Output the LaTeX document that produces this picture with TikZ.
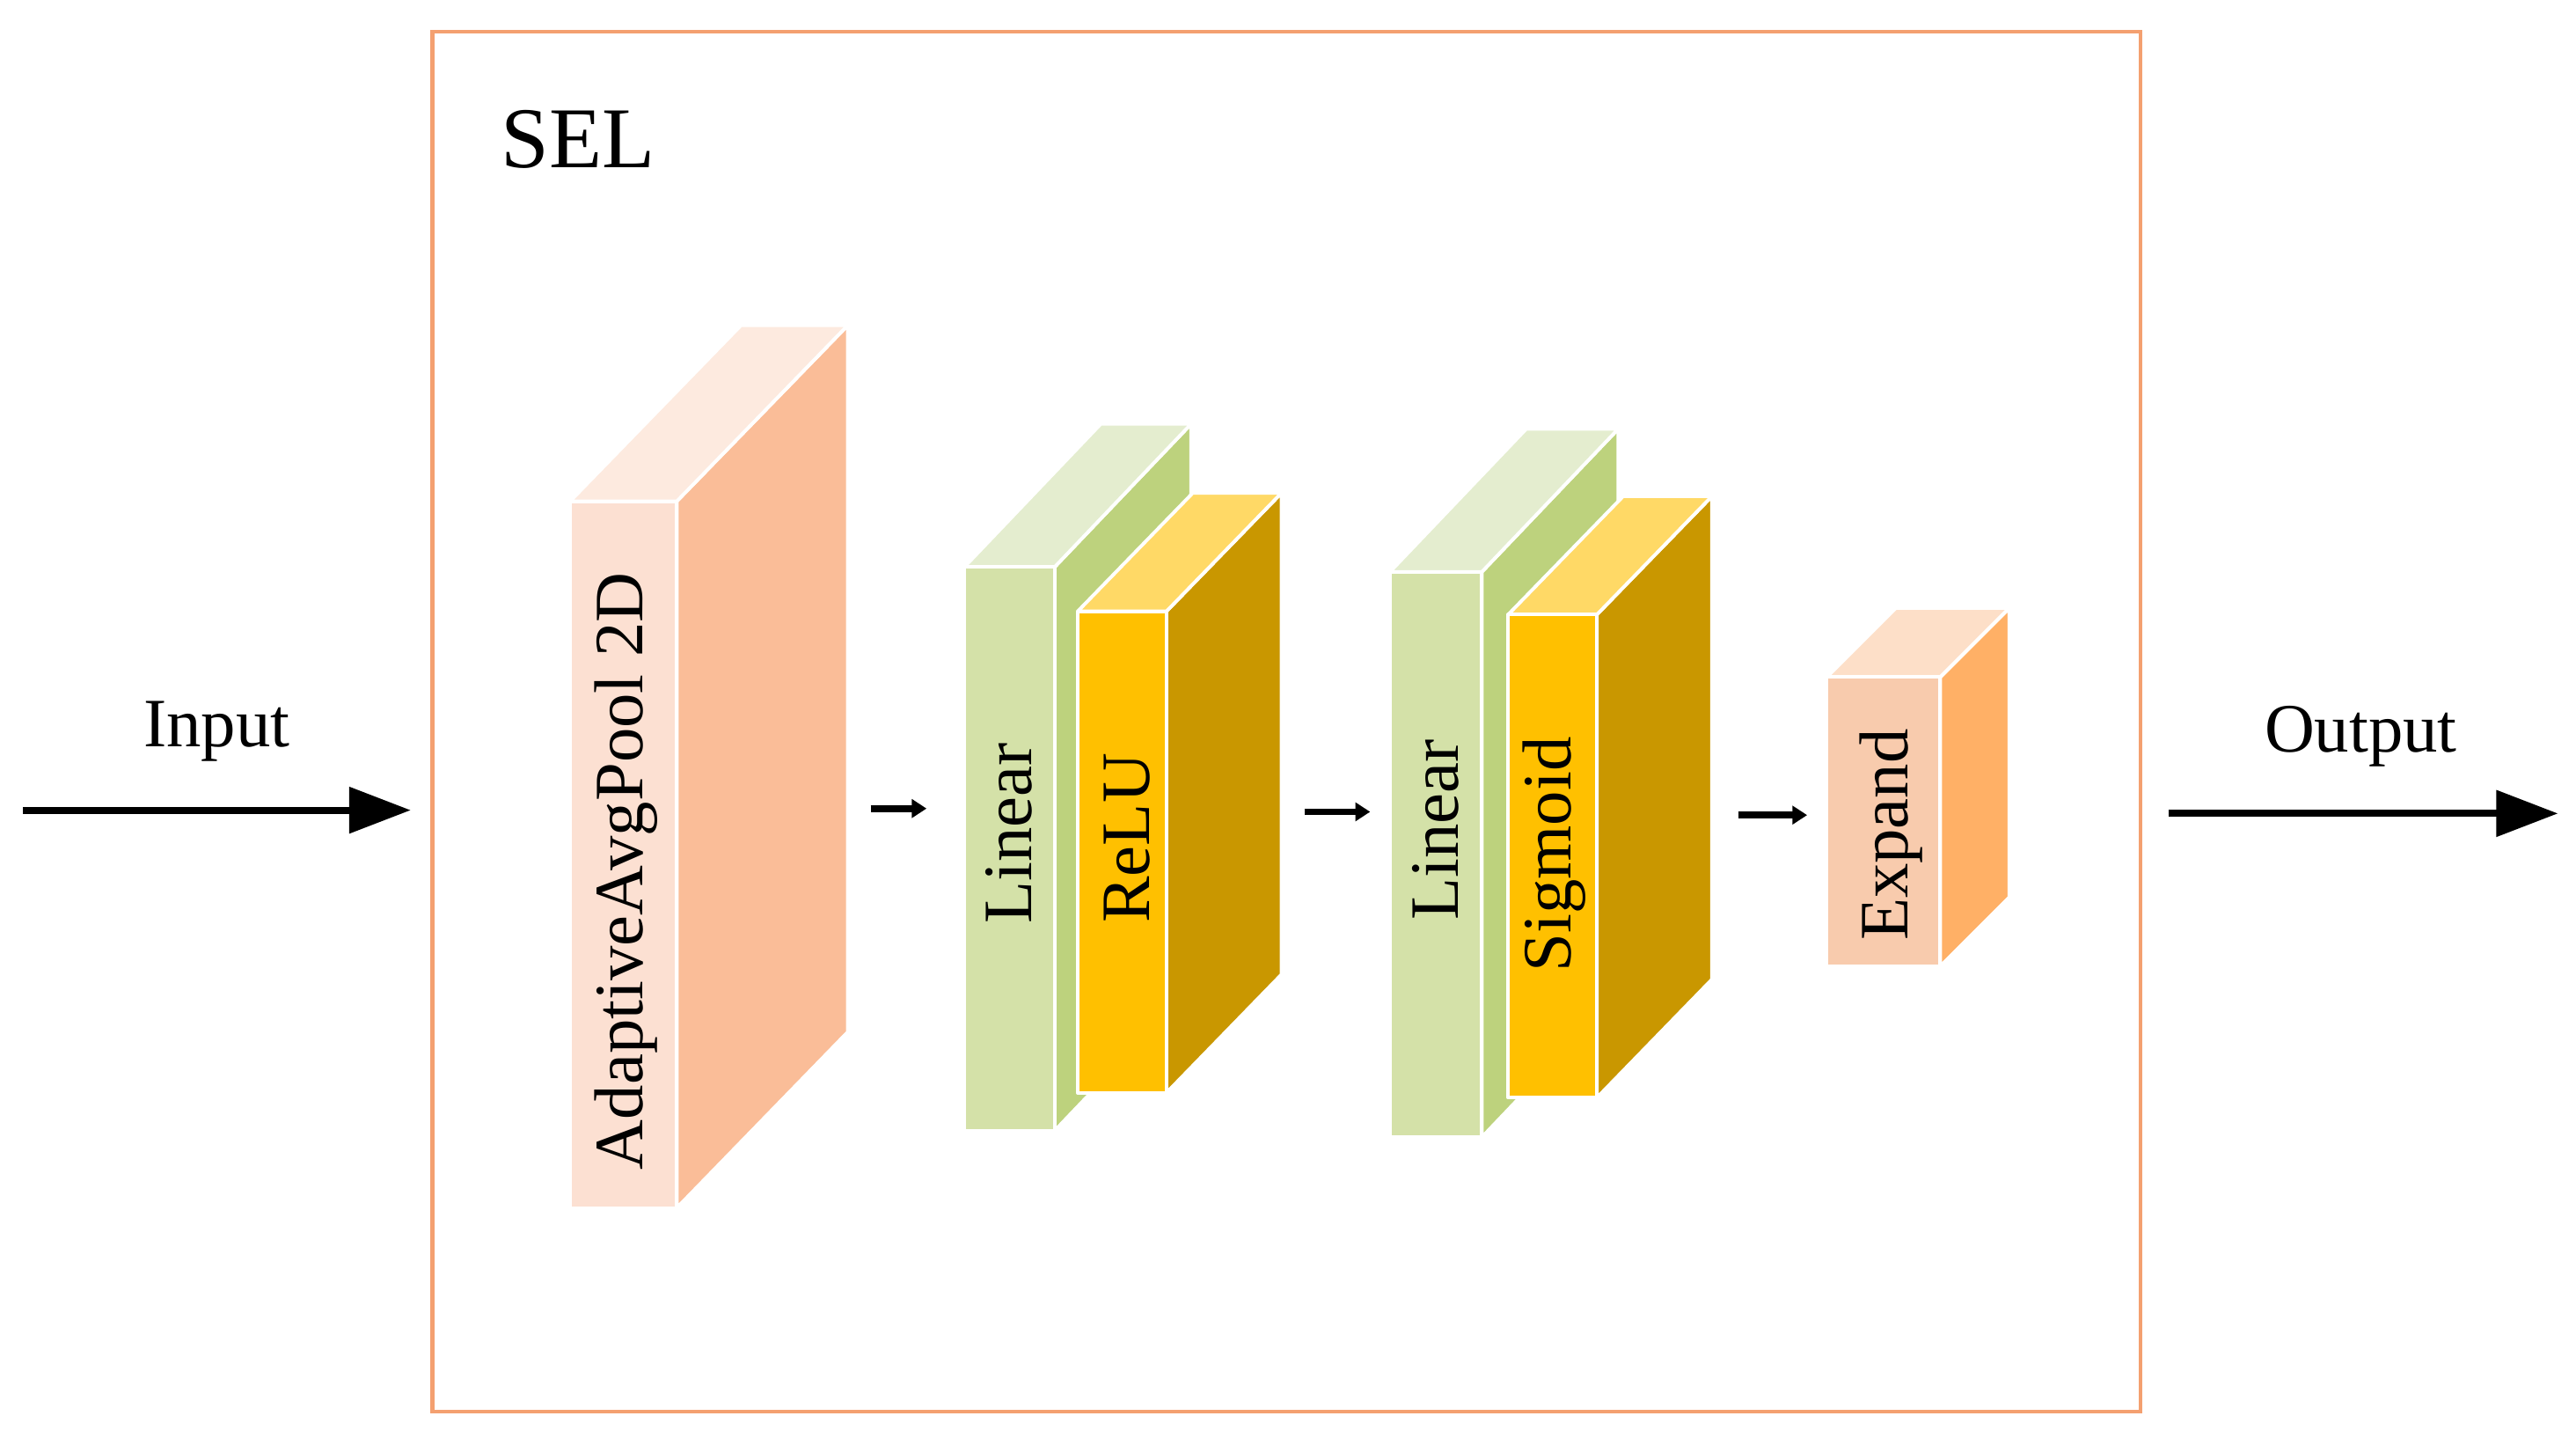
\documentclass[tikz,border=0pt]{standalone}
\usepackage{fontspec}
\setmainfont{Liberation Serif}
\usetikzlibrary{arrows.meta}
\definecolor{frameC}{HTML}{F4A070}
\definecolor{pF}{HTML}{FCE0D2}\definecolor{pT}{HTML}{FDEADF}\definecolor{pS}{HTML}{FABD98}
\definecolor{gF}{HTML}{D4E1A8}\definecolor{gT}{HTML}{E4EDCF}\definecolor{gS}{HTML}{BDD27D}
\definecolor{yF}{HTML}{FFC000}\definecolor{yT}{HTML}{FFD966}\definecolor{yS}{HTML}{C99700}
\definecolor{eF}{HTML}{F8CBAD}\definecolor{eT}{HTML}{FDDFC8}\definecolor{eS}{HTML}{FFB066}
\tikzset{
  face/.style={draw=white, line width=1.2pt, line join=round},
  lbl/.style={font=\fontsize{24}{28}\selectfont, inner sep=0pt},
  big/.style={line width=2.4pt, -{Triangle[length=0.75cm,width=0.55cm]}},
  small/.style={line width=2.4pt, -{Triangle[length=0.18cm,width=0.22cm]}}
}
\newcommand{\myblock}[9]{%
  \fill[#9,face] (#3,#2) -- (#3+#5,#2-#6) -- (#3+#5,#4-#6) -- (#3,#4) -- cycle;
  \fill[#8,face] (#1,#2) -- (#1+#5,#2-#6) -- (#3+#5,#2-#6) -- (#3,#2) -- cycle;
  \fill[#7,face] (#1,#2) rectangle (#3,#4);
}
\begin{document}
\begin{tikzpicture}[x=0.02cm,y=-0.02cm]
\useasboundingbox (0,0) rectangle (1568,875);
\node[draw=frameC, line width=1.3pt, minimum width=20.8cm, minimum height=16.8cm, anchor=north west, inner sep=0pt] (frame) at (262,18) {};
\node[font=\fontsize{30}{34}\selectfont, inner sep=0pt] (sel) at (352,85) {SEL};

\myblock{347}{305}{412}{735}{104}{107}{pF}{pT}{pS}
\node[lbl, rotate=90] (pool) at (381,530) {AdaptiveAvgPool 2D};

\myblock{587}{345}{642}{688}{83}{87}{gF}{gT}{gS}
\myblock{656}{372}{710}{665}{70}{72}{yF}{yT}{yS}
\node[lbl, rotate=90] (lin1) at (614,507) {Linear};
\node[lbl, rotate=90] (relu) at (686,510) {ReLU};

\myblock{846}{348}{902}{692}{83}{87}{gF}{gT}{gS}
\myblock{918}{374}{972}{668}{70}{72}{yF}{yT}{yS}
\node[lbl, rotate=90] (lin2) at (874,505) {Linear};
\node[lbl, rotate=90] (sig) at (946,520) {Sigmoid};

\myblock{1112}{412}{1181}{588}{42}{42}{eF}{eT}{eS}
\node[lbl, rotate=90] (exp) at (1151,508) {Expand};

\coordinate (in0) at (14,493); \coordinate (in1) at (250,493);
\coordinate (out0) at (1320,495); \coordinate (out1) at (1557,495);
\coordinate (a0) at (530,492); \coordinate (a1) at (564,492);
\coordinate (b0) at (794,494); \coordinate (b1) at (834,494);
\coordinate (c0) at (1058,496); \coordinate (c1) at (1100,496);
\draw[big] (in0) -- (in1);
\draw[big] (out0) -- (out1);
\draw[small] (a0) -- (a1);
\draw[small] (b0) -- (b1);
\draw[small] (c0) -- (c1);
\node[lbl] (input) at (132,445) {Input};
\node[lbl] (output) at (1437,448) {Output};
\end{tikzpicture}
\end{document}
